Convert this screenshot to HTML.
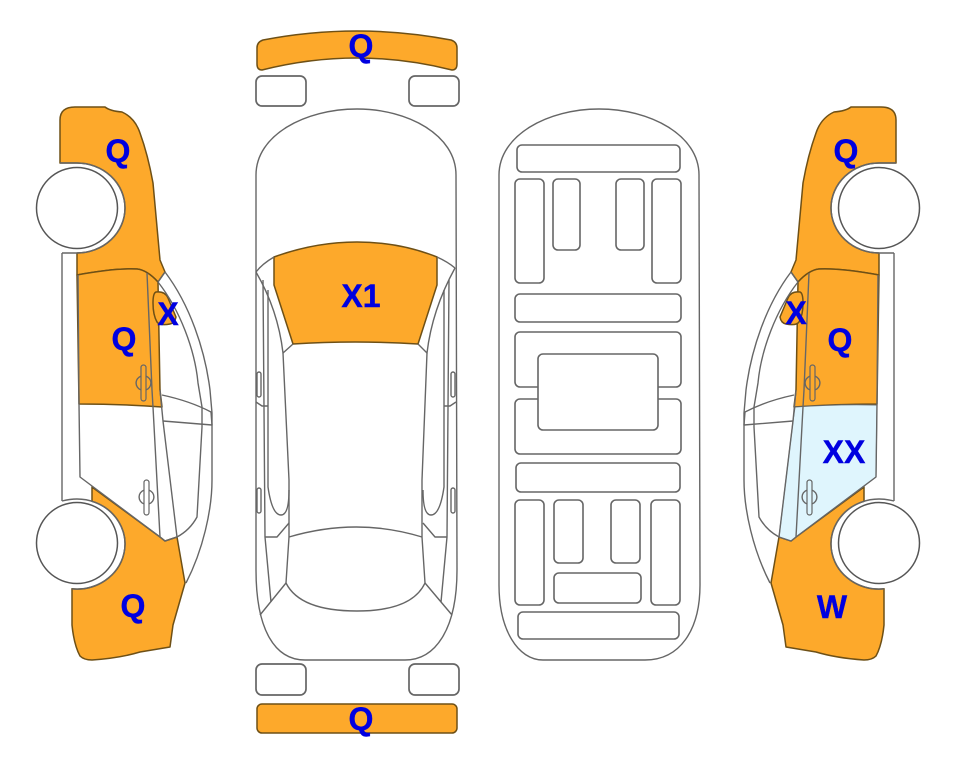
<!DOCTYPE html>
<html>
<head>
<meta charset="utf-8">
<style>
html,body{margin:0;padding:0;background:#fff;}
svg{display:block;}
.o{fill:#fda92b;stroke:#6e5016;stroke-width:1.5;stroke-linejoin:round;}
.l{fill:none;stroke:#666;stroke-width:1.4;stroke-linejoin:round;}
.r{fill:#fff;stroke:#666;stroke-width:1.7;}
text{font-family:"Liberation Sans",sans-serif;font-weight:bold;font-size:32px;fill:#0000e0;stroke:#0000e0;stroke-width:0.4;text-anchor:middle;}
</style>
</head>
<body>
<svg width="963" height="768" viewBox="0 0 963 768" xmlns="http://www.w3.org/2000/svg">
<defs>
<g id="fills">
<path class="o" d="M60,163 L60,120 Q60,107 75,107 L105,107 Q110,111 122,112 Q135,118 140,133 Q148,155 153,183 L160,260 L165,272 L158,282 Q147,270 137,269 Q115,268 77,275 L77,253 A48,45 0 0 0 77,163 Z"/>
<path class="o" d="M77,275 Q115,268 137,269 Q147,270 158,282 L160,390 L162,407 Q120,404 79,404 Z"/>
<path class="o" d="M92,487 L92,501.3 A48,45 0 0 1 72,588.8 L72,625 Q74,645 80,656 Q84,660 92,660 Q120,658 140,652 L170,647 L173,625 L185,583 L177,537 L165,541 L160,537 Z"/>
<path class="o" d="M156,292 Q165,291 168,298 L176,317 Q175,323 170,324 Q160,326 157,322 Q153,315 153,303 Q153,293 156,292 Z"/>
</g>
<g id="lines">
<path class="l" d="M62,253 L62,501"/>
<path class="l" d="M78,275 L79,404 L80,477 L160,537 L165,541 L177,537 Q190,530 197,517 L202,427 L202,407 L198,383 C195,350 180,310 158,282"/>
<path class="l" d="M165,272 C190,305 205,350 210,390 L212,413 L212,480 C212,510 203,550 186,583"/>
<path class="l" d="M147,273 L152,390 L153,407 L160,537"/>
<path class="l" d="M160,390 L163,421 L177,537"/>
<path class="l" d="M162,395 Q190,401 211,412 L212,425 L163,421"/>
<path class="l" d="M158,282 L165,272"/>
<path class="l" d="M141,376.1 A7.3,7.3 0 0 0 141,389.9 M146,376.1 A7.3,7.3 0 0 1 146,389.9"/>
<rect x="141" y="365" width="5" height="36" rx="2.5" fill="none" stroke="#666" stroke-width="1.2"/>
<path class="l" d="M144,490.1 A7.3,7.3 0 0 0 144,503.9 M149,490.1 A7.3,7.3 0 0 1 149,503.9"/>
<rect x="144" y="480" width="5" height="35" rx="2.5" fill="none" stroke="#666" stroke-width="1.2"/>
<circle cx="77" cy="208" r="40.5" fill="#fff" stroke="#555" stroke-width="1.5"/>
<circle cx="77" cy="543" r="40.5" fill="#fff" stroke="#555" stroke-width="1.5"/>
<path class="l" d="M60,163 L77,163 A48,45 0 0 1 77,253 L62,253"/>
<path class="l" d="M62,501 Q70,499 77,499 A48,45 0 0 1 125,544 A48,45 0 0 1 72,588.8"/>
</g>
</defs>

<!-- left side -->
<use href="#fills"/>
<use href="#lines"/>

<!-- right side -->
<g transform="translate(956,0) scale(-1,1)">
<use href="#fills"/>
<path d="M79,405 Q120,404 161,407 L163,421 L177,537 L165,541 L160,537 L80,477 Z" fill="#dff5fd" stroke="#666" stroke-width="1"/>
<use href="#lines"/>
</g>

<!-- top view -->
<path class="o" d="M262,70 Q257,70 257,64 L257,48 Q257,42 263,40 Q357,22 451,40 Q457,42 457,48 L457,64 Q457,70 452,70 Q357,46 262,70 Z"/>
<rect class="r" x="256" y="76" width="50" height="30" rx="6"/>
<rect class="r" x="409" y="76" width="50" height="30" rx="6"/>
<rect class="r" x="256" y="664" width="50" height="31" rx="6"/>
<rect class="r" x="409" y="664" width="50" height="31" rx="6"/>
<rect class="o" x="257" y="704" width="200" height="29" rx="5"/>
<path class="l" d="M256,175 C256,135 305,109 357,109 C408,109 456,135 456,175 L457,570 C457,630 435,660 405,660 L305,660 C275,660 256,630 256,570 Z"/>
<path class="o" d="M274,257 Q315,242 357,242 Q400,242 437,257 L437,285 L418,344 Q355,340 293,344 L274,285 Z"/>
<path class="l" d="M256,272 Q262,264 274,257 M437,257 Q448,262 455,268"/>
<path class="l" d="M256,272 Q278,310 283,353 L293,344 M455,268 Q432,310 427,353 L418,344"/>
<path class="l" d="M283,353 L289,480 L289,537 L286,583 M427,353 L422,480 L422,537 L425,583"/>
<path class="l" d="M289,537 Q357,517 422,537 M286,583 Q300,611 357,611 Q412,611 425,583"/>
<path class="l" d="M286,583 L260,615 M425,583 L452,615"/>
<path class="l" d="M263,280 L265,537 L271,602 M449,280 L447,537 L441,602"/>
<path class="l" d="M268,290 L268,487 Q272,515 281,515 Q289,515 289,490 M444,290 L444,487 Q440,515 431,515 Q423,515 423,490"/>
<path class="l" d="M265,537 L277,537 L289,523 M447,537 L435,537 L423,523"/>
<path class="l" d="M256,402 L262,406 L268,406 M456,402 L450,406 L444,406"/>
<rect class="l" x="257" y="372" width="4" height="25" rx="2"/>
<rect class="l" x="257" y="488" width="4" height="25" rx="2"/>
<rect class="l" x="451" y="372" width="4" height="25" rx="2"/>
<rect class="l" x="451" y="488" width="4" height="25" rx="2"/>

<!-- underside view -->
<path class="l" d="M499,175 C499,135 548,109 599,109 C650,109 699,135 699,175 L700,585 C700,630 680,660 645,660 L543,660 C518,660 499,630 499,585 Z"/>
<g fill="none" stroke="#666" stroke-width="1.6">
<rect x="517" y="145" width="163" height="27" rx="5"/>
<rect x="515" y="179" width="29" height="104" rx="5"/>
<rect x="553" y="179" width="27" height="71" rx="5"/>
<rect x="616" y="179" width="28" height="71" rx="5"/>
<rect x="652" y="179" width="29" height="104" rx="5"/>
<rect x="515" y="294" width="166" height="28" rx="5"/>
<rect x="515" y="332" width="166" height="55" rx="5"/>
<rect x="515" y="399" width="166" height="55" rx="5"/>
<rect x="538" y="354" width="120" height="76" rx="5" fill="#fff"/>
<rect x="516" y="463" width="164" height="29" rx="5"/>
<rect x="515" y="500" width="29" height="105" rx="5"/>
<rect x="554" y="500" width="29" height="63" rx="5"/>
<rect x="611" y="500" width="29" height="63" rx="5"/>
<rect x="651" y="500" width="29" height="105" rx="5"/>
<rect x="554" y="573" width="87" height="30" rx="5"/>
<rect x="518" y="612" width="161" height="27" rx="5"/>
</g>

<!-- labels -->
<text x="118" y="162">Q</text>
<text x="124" y="350">Q</text>
<text x="168" y="325">X</text>
<text x="133" y="617">Q</text>
<text x="361" y="57">Q</text>
<text x="361" y="307">X1</text>
<text x="361" y="730">Q</text>
<text x="846" y="162">Q</text>
<text x="840" y="351">Q</text>
<text x="796" y="324">X</text>
<text x="844" y="463">XX</text>
<text x="832" y="618">W</text>
</svg>
</body>
</html>
